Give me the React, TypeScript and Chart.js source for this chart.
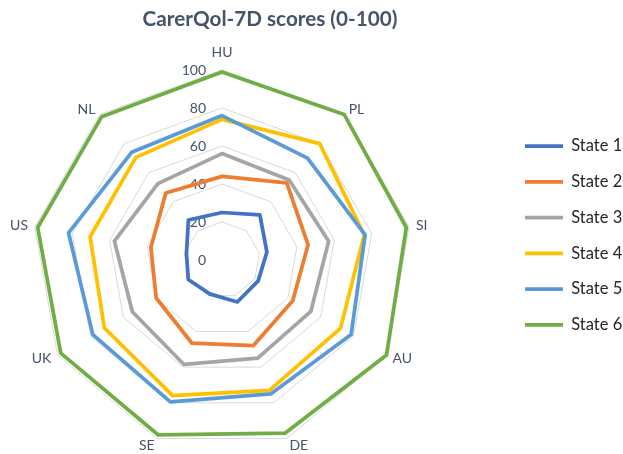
import React, { useEffect, useRef } from 'react';
import { Chart, registerables } from 'chart.js';

Chart.register(...registerables);

const categories = ['HU', 'PL', 'SI', 'AU', 'DE', 'SE', 'UK', 'US', 'NL'];
const seriesNames = ['State 1', 'State 2', 'State 3', 'State 4', 'State 5', 'State 6'];
const state1 = [25, 31, 24, 22, 23.5, 19, 20.5, 19, 27.5];
const state2 = [44, 53, 46, 43, 48, 46.5, 40, 38, 46];
const state3 = [56, 55, 57, 54, 55, 58.5, 54.5, 57.5, 52.5];
const state4 = [74, 80, 76, 72, 73, 76, 71.5, 70.5, 70.5];
const state5 = [76, 70, 76.5, 78.5, 75, 79.5, 78.5, 82, 74];
const state6 = [99, 100, 98.5, 100, 97, 98, 98, 98.5, 98.5];
const tickValues = [0, 20, 40, 60, 80, 100];
const titleText = 'CarerQol-7D scores (0-100)';

const seriesValues = [state1, state2, state3, state4, state5, state6];
const seriesColors = ['#4472C4', '#ED7D31', '#A5A5A5', '#FFC000', '#5B9BD5', '#70AD47'];

const FONT = 'Lato, "Open Sans", sans-serif';
const LABEL_COLOR = '#44546A';

const radarText = {
  id: 'radarText',
  beforeDatasetsDraw(chart: any) {
    const scale = chart.scales.r;
    const ctx = chart.ctx;
    ctx.save();
    ctx.font = `14px ${FONT}`;
    ctx.fillStyle = LABEL_COLOR;
    // tick labels
    ctx.textAlign = 'right';
    ctx.textBaseline = 'middle';
    scale.ticks.forEach((t: any) => {
      const d = scale.getDistanceFromCenterForValue(t.value);
      ctx.fillText(String(t.label), scale.xCenter - 16, scale.yCenter - d);
    });
    // category labels
    (chart.data.labels as string[]).forEach((lab, i) => {
      const a = scale.getIndexAngle(i);
      const p = scale.getPointPosition(i, scale.drawingArea + 7);
      const s = Math.sin(a);
      const c = Math.cos(a);
      let y = p.y;
      if (Math.abs(s) < 0.05) {
        ctx.textAlign = 'center';
      } else if (s > 0) {
        ctx.textAlign = 'left';
      } else {
        ctx.textAlign = 'right';
      }
      if (c > 0.95) {
        ctx.textBaseline = 'bottom';
        y -= 4;
      } else {
        ctx.textBaseline = 'middle';
      }
      ctx.fillText(lab, p.x, y);
    });
    ctx.restore();
  },
};

const legendPlace = {
  id: 'legendPlace',
  afterLayout(chart: any) {
    const lg = chart.legend;
    if (!lg) return;
    lg.left = 505.75;
    lg.right = chart.width + 40;
    lg.width = lg.right - lg.left;
    lg.top = 118.5;
    lg.height = lg.bottom - lg.top;
  },
};

export default function App() {
  const ref = useRef<HTMLCanvasElement | null>(null);

  useEffect(() => {
    if (!ref.current) return;
    const datasets = seriesNames.map((name, i) => ({
      label: name,
      data: seriesValues[i],
      borderColor: seriesColors[i],
      backgroundColor: seriesColors[i],
      borderWidth: 3.75,
      borderJoinStyle: 'round' as const,
      borderCapStyle: 'round' as const,
      fill: false,
      pointRadius: 0,
      pointHoverRadius: 0,
      pointStyle: 'line' as const,
      order: seriesNames.length - 1 - i,
    }));

    const chart = new Chart(ref.current, {
      type: 'radar',
      data: { labels: categories, datasets },
      plugins: [radarText, legendPlace],
      options: {
        responsive: false,
        devicePixelRatio: 1,
        animation: false,
        layout: { padding: { top: 0, left: 0, right: 83, bottom: 4 } },
        plugins: {
          title: {
            display: true,
            text: titleText,
            color: LABEL_COLOR,
            font: { family: FONT, size: 20.7, weight: 'bold' },
            padding: { top: 6.58, bottom: 38.58 },
          },
          legend: {
            display: true,
            position: 'right',
            align: 'start',
            maxWidth: 96,
            labels: {
              usePointStyle: true,
              pointStyle: 'line',
              pointStyleWidth: 38,
              padding: 19.25,
              color: '#262626',
              font: { family: FONT, size: 16.5 },
              sort: (a: any, b: any) => a.datasetIndex - b.datasetIndex,
            },
          },
          tooltip: { enabled: false },
        },
        scales: {
          r: {
            min: tickValues[0],
            max: tickValues[tickValues.length - 1],
            ticks: { display: false, stepSize: tickValues[1] - tickValues[0] },
            pointLabels: { display: false },
            angleLines: { display: false },
            grid: { color: '#D9D9D9', lineWidth: 1 },
          },
        },
      } as any,
    });
    return () => chart.destroy();
  }, []);

  return (
    <div style={{ position: 'absolute', left: 0, top: 0, width: 623, height: 454, background: '#fff' }}>
      <canvas ref={ref} width={623} height={454} style={{ display: 'block' }} />
    </div>
  );
}
